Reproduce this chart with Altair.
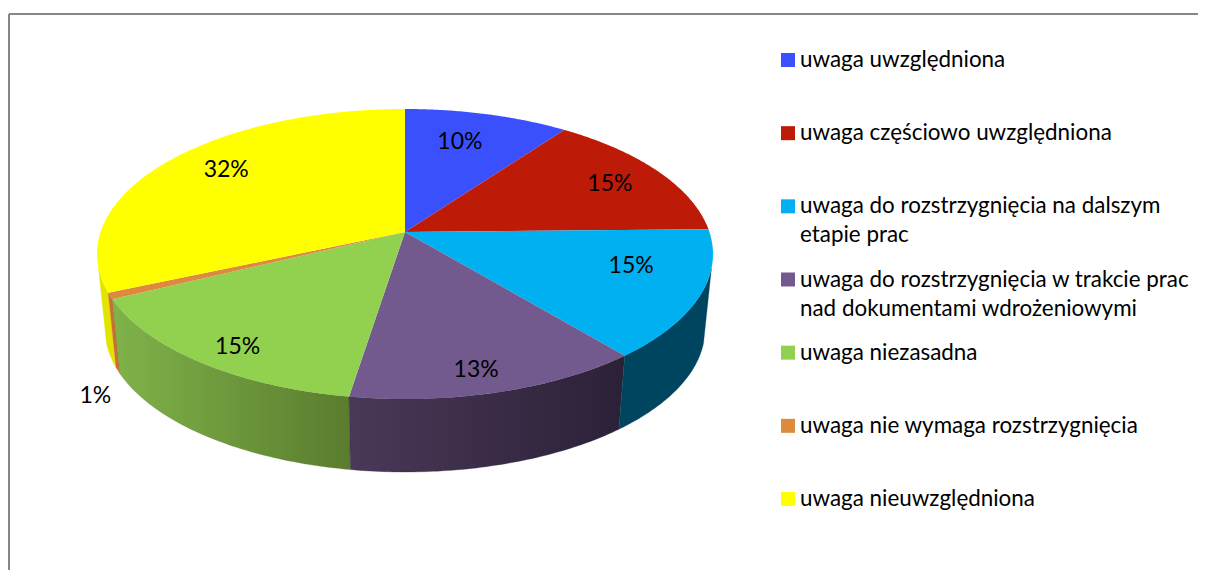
import math
import altair as alt

# ---- data ----
CATEGORIES = [
    "uwaga uwzględniona",
    "uwaga częściowo uwzględniona",
    "uwaga do rozstrzygnięcia na dalszym\netapie prac",
    "uwaga do rozstrzygnięcia w trakcie prac\nnad dokumentami wdrożeniowymi",
    "uwaga niezasadna",
    "uwaga nie wymaga rozstrzygnięcia",
    "uwaga nieuwzględniona",
]
VALUES = [10.0, 14.7, 14.3, 13.5, 15.2, 0.7, 31.6]
PCT_LABELS = ["10%", "15%", "15%", "13%", "15%", "1%", "32%"]
COLORS = ["#3A50FC", "#BE1A08", "#00B0F0", "#725A8E", "#92D050", "#DD8A3F", "#FFFF00"]
WALL_LEFT = [None, None, "#004560", "#4A3858", "#80B34A", "#C87030", "#E3E300"]
WALL_RIGHT = [None, None, "#004560", "#2B2137", "#5A7C2E", "#C87030", "#E3E300"]
LABEL_RADIUS = [0.739, 0.799, 0.752, 0.867, 0.868, 1.307, 0.79]
LABEL_TURN = [-2.3, 0.3, -7.2, 1.7, -2.0, -23.5, 4.0]

# ---- layout of the tilted disc (in chart pixels; page margin is 8) ----
W, H = 1190, 562
HUB_X, HUB_Y = 405 - 8, 232 - 8
PERSP = 0.152
AX, BY = 304.4, 141.7
TOP_CX, TOP_CY, TOP_RX, TOP_RY = 405 - 8, 254 - 8, 308, 145
LOW_CX, LOW_CY, LOW_RX, LOW_RY = 405 - 8, 329 - 8, 300, 143
T_MIN, T_MAX = 0.1, math.pi - 0.1


def project(deg, r=1.0):
    a = math.radians(deg)
    u, v = r * math.sin(a), r * math.cos(a)
    w = 1 + PERSP * v
    return HUB_X + AX * u / w, HUB_Y - BY * v / w


def ellipse_t(deg):
    x, y = project(deg)
    return math.atan2((y - TOP_CY) / TOP_RY, (x - TOP_CX) / TOP_RX)


def wall_t(deg):
    # rim parameter over 0..pi for the front half
    t = ellipse_t(deg)
    if deg > 270:
        t = T_MAX + 1
    return min(max(t, T_MIN), T_MAX)


total = sum(VALUES)
edges = [0.0]
for val in VALUES:
    edges.append(edges[-1] + val / total * 360)

tops, walls, labels = [], [], []
for i, name in enumerate(CATEGORIES):
    a0, a1 = edges[i], edges[i + 1]
    n = max(int(a1 - a0) * 2, 2)
    rim = [project(a0 + (a1 - a0) * k / n) for k in range(n + 1)]
    ring = [[HUB_X, HUB_Y]] + [list(p) for p in rim] + [[HUB_X, HUB_Y]]
    tops.append({"type": "Feature", "properties": {"name": name},
                 "geometry": {"type": "Polygon", "coordinates": [ring]}})
    mid = (a0 + a1) / 2 + LABEL_TURN[i]
    lx, ly = project(mid, LABEL_RADIUS[i])
    labels.append({"label": PCT_LABELS[i], "px": lx, "py": ly})
    if WALL_LEFT[i]:
        t0, t1 = wall_t(a0), wall_t(a1)
        m = 60
        ts = [t0 + (t1 - t0) * k / m for k in range(m + 1)]
        up = [[TOP_CX + TOP_RX * math.cos(t), TOP_CY + TOP_RY * math.sin(t)] for t in ts]
        lo = [[LOW_CX + LOW_RX * math.cos(t), LOW_CY + LOW_RY * math.sin(t)] for t in ts]
        wring = up + lo[::-1] + [up[0]]
        walls.append((i, {"type": "Feature", "properties": {"name": name},
                          "geometry": {"type": "Polygon", "coordinates": [wring]}}))

color_scale = alt.Scale(domain=CATEGORIES, range=COLORS)
px_x = alt.Scale(domain=[0, W], range=[0, W])
px_y = alt.Scale(domain=[0, H], range=[0, H])

layers = [
    alt.Chart(alt.Data(values=[{"a": 0}])).mark_rule(color="#868686", strokeWidth=2).encode(
        x=alt.value(1), y=alt.value(6), y2=alt.value(H)),
    alt.Chart(alt.Data(values=[{"a": 0}])).mark_rule(color="#868686", strokeWidth=2).encode(
        x=alt.value(1), x2=alt.value(W), y=alt.value(6)),
]

for i, feat in walls[::-1]:
    grad = alt.LinearGradient(
        gradient="linear", x1=1, x2=0, y1=0, y2=0,
        stops=[alt.GradientStop(color=WALL_RIGHT[i], offset=0),
               alt.GradientStop(color=WALL_LEFT[i], offset=1)])
    layers.append(
        alt.Chart(alt.Data(values=[feat])).mark_geoshape(fill=grad, stroke=WALL_RIGHT[i], strokeWidth=0.3)
        .project(type="identity", scale=1, translate=[0, 0]))

layers.append(
    alt.Chart(alt.Data(values=tops)).mark_geoshape(strokeWidth=0)
    .encode(color=alt.Color("properties.name:N", scale=color_scale, legend=None))
    .project(type="identity", scale=1, translate=[0, 0]))

layers.append(
    alt.Chart(alt.Data(values=labels)).mark_text(font="Lato", fontSize=23, color="#000000", dy=1)
    .encode(x=alt.X("px:Q", scale=px_x, axis=None),
            y=alt.Y("py:Q", scale=px_y, axis=None),
            text="label:N"))

# legend: one entry per category, spaced evenly
legend_rows = [{"name": c, "row": k} for k, c in enumerate(CATEGORIES)]
row_scale = alt.Scale(domain=[0, 6], range=[60 - 8, 499 - 8])
layers.append(
    alt.Chart(alt.Data(values=legend_rows)).mark_square(size=196, opacity=1, filled=True)
    .encode(x=alt.value(780), y=alt.Y("row:Q", scale=row_scale, axis=None),
            color=alt.Color("name:N", scale=color_scale, legend=None)))
layers.append(
    alt.Chart(alt.Data(values=legend_rows)).mark_text(
        font="Lato", fontSize=22.4, color="#000000", align="left", baseline="top",
        lineBreak="\n", lineHeight=29, dy=-11)
    .encode(x=alt.value(792), y=alt.Y("row:Q", scale=row_scale, axis=None), text="name:N"))

chart = alt.layer(*layers).resolve_scale(x="independent", y="independent").properties(
    width=W, height=H, padding=0, autosize=alt.AutoSizeParams(type="none")
).configure_view(stroke=None)

chart.save("out.html", embed_options={"renderer": "svg", "actions": False})
